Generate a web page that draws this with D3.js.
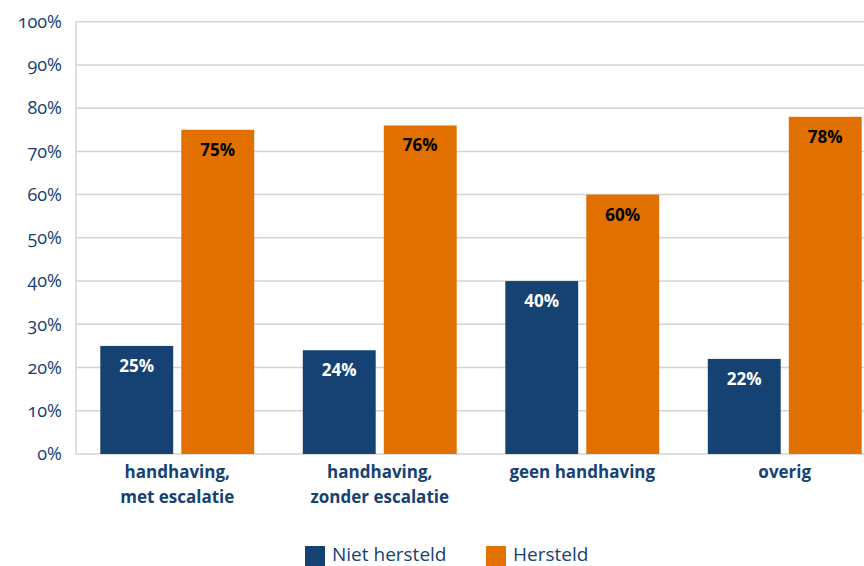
<!DOCTYPE html>
<html>
<head>
<meta charset="utf-8">
<script src="https://cdn.jsdelivr.net/npm/d3@7"></script>
<style>
  body { margin: 0; background: #fff; }
  svg { display: block; font-family: "Open Sans", sans-serif; }
</style>
</head>
<body>
<div id="chart"></div>
<script>
const width = 864, height = 566;

// data
const categories = [
    ["handhaving,", "met escalatie"],
    ["handhaving,", "zonder escalatie"],
    ["geen handhaving"],
    ["overig"]
];
const series = ["Niet hersteld", "Hersteld"];
const nietHersteld = [25, 24, 40, 22];
const hersteld = [75, 76, 60, 78];
const yTicks = [0, 10, 20, 30, 40, 50, 60, 70, 80, 90, 100];

const colors = ["#154273", "#e17000"];
const labelColors = ["#ffffff", "#000000"];
const textColor = "#154273";

const margin = {top: 21.7, right: -22, bottom: 112, left: 76};

let svg = d3.select("#chart").append("svg")
    .attr("width", width)
    .attr("height", height);

let catKeys = categories.map(d => d.join(" "));
let data = catKeys.map((k, i) => ({key: k, lines: categories[i], values: [nietHersteld[i], hersteld[i]]}));

let x0 = d3.scaleBand()
    .domain(catKeys)
    .range([margin.left, width - margin.right]);

let x1 = d3.scaleBand()
    .domain(series)
    .range([0, x0.bandwidth()])
    .paddingInner(0.1)
    .paddingOuter(0.3);

let y = d3.scaleLinear()
    .domain([0, 100])
    .range([height - margin.bottom, margin.top]);

// grid
svg.append("g")
    .attr("stroke", "#d4d4d4")
    .attr("stroke-width", 1.5)
    .selectAll("line")
    .data(yTicks)
    .join("line")
        .attr("x1", margin.left)
        .attr("x2", width)
        .attr("y1", d => y(d))
        .attr("y2", d => y(d));

svg.append("line")
    .attr("stroke", "#d4d4d4")
    .attr("stroke-width", 1.5)
    .attr("x1", margin.left)
    .attr("x2", margin.left)
    .attr("y1", y(100))
    .attr("y2", y(0));

// y axis labels
let yAxis = g => g
    .attr("transform", `translate(${margin.left},0)`)
    .call(d3.axisLeft(y).tickValues(yTicks).tickFormat(d => d + "%").tickSize(0).tickPadding(14))
    .call(g => g.select(".domain").remove())
    .call(g => g.selectAll("text")
        .attr("fill", textColor)
        .attr("font-family", "'Open Sans', sans-serif")
        .attr("font-size", 18)
        .style("font-feature-settings", "'onum'"));

svg.append("g").call(yAxis);

// bars
let groups = svg.append("g")
    .selectAll("g")
    .data(data)
    .join("g")
        .attr("transform", d => `translate(${x0(d.key)},0)`);

groups.selectAll("rect")
    .data(d => d.values.map((v, i) => ({s: series[i], v: v, i: i})))
    .join("rect")
        .attr("x", d => x1(d.s))
        .attr("width", x1.bandwidth())
        .attr("y", d => y(d.v))
        .attr("height", d => y(0) - y(d.v))
        .attr("fill", d => colors[d.i]);

groups.selectAll("text.val")
    .data(d => d.values.map((v, i) => ({s: series[i], v: v, i: i})))
    .join("text")
        .attr("class", "val")
        .attr("x", d => x1(d.s) + x1.bandwidth() / 2)
        .attr("y", d => y(d.v) + 26)
        .attr("text-anchor", "middle")
        .attr("font-size", 17)
        .attr("font-weight", "bold")
        .attr("fill", d => labelColors[d.i])
        .text(d => d.v + "%");

// category labels
groups.append("text")
    .attr("x", x0.bandwidth() / 2)
    .attr("text-anchor", "middle")
    .attr("font-size", 17)
    .attr("font-weight", "bold")
    .attr("fill", textColor)
    .selectAll("tspan")
    .data(d => d.lines)
    .join("tspan")
        .attr("x", x0.bandwidth() / 2)
        .attr("y", (d, i) => y(0) + 24 + i * 25)
        .text(d => d);

// legend
let legendX = [305, 486];
let legend = svg.append("g")
    .selectAll("g")
    .data(series)
    .join("g")
        .attr("transform", (d, i) => `translate(${legendX[i]},546)`);

legend.append("rect")
    .attr("width", 20)
    .attr("height", 20)
    .attr("fill", (d, i) => colors[i]);

legend.append("text")
    .attr("x", 27)
    .attr("y", 15)
    .attr("font-size", 19)
    .attr("fill", textColor)
    .text(d => d);
</script>
</body>
</html>
